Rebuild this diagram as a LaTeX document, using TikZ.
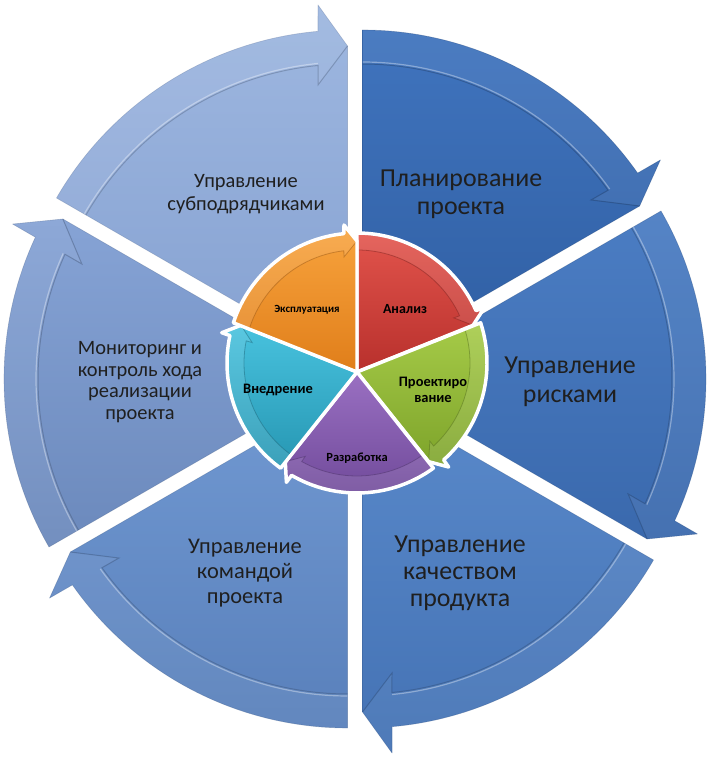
\documentclass[tikz,border=0pt]{standalone}
\usepackage{fontspec}
\setmainfont{Carlito}
\begin{document}
\begin{tikzpicture}[x=1bp,y=1bp,
  otext/.style={align=center, text=black!88},
  itext/.style={align=center, text=black}]
\useasboundingbox (0,0) rectangle (711,767);
\fill[white] (0,0) rectangle (711,767);
% ---------- outer ring: six exploded arrow segments ----------
\foreach \sa/\sb/\ct/\cb in {90/30/4074BE/2F5EA2, 30/-30/4B7DC3/3A69AD, -30/-90/5A8ACB/4472B4, -90/-150/7199D2/5980BB, -150/-210/86A3D5/6B89BC, 150/90/9EB7E0/85A1D1}{
  \definecolor{tc}{HTML}{\ct}\definecolor{bc}{HTML}{\cb}
  \pgfmathsetmacro\mm{(\sa+\sb)/2}
  \pgfmathsetmacro\ee{\sb+5.04}
  \pgfmathsetmacro\eei{\sb+5.6}
  \pgfmathsetmacro\bq{\sb+90}
  \begin{scope}[shift={(355,388)}, shift={(\mm:15)}]
    \shade[top color=tc, bottom color=bc] (0,0) -- (\sa:336) arc[start angle=\sa, end angle=\ee, radius=336] -- ([shift={(\bq:29.5)}]\sb:361) -- (\sb:320) -- cycle;
    \fill[white, opacity=0.06] (\sa:336) arc[start angle=\sa, end angle=\ee, radius=336] -- ([shift={(\bq:29.5)}]\sb:361) -- (\sb:320) -- ([shift={(\bq:29.5)}]\sb:281) -- (\eei:302) arc[start angle=\eei, end angle=\sa, radius=302] -- cycle;
    \draw[white, opacity=0.35, line width=1.2] (\sa:304) arc[start angle=\sa, end angle=\eei, radius=304];
    \draw[bc!65!black, opacity=0.45, line width=1] (\sa:302) arc[start angle=\sa, end angle=\eei, radius=302] -- ([shift={(\bq:29.5)}]\sb:281) -- (\sb:320);
    \draw[bc!75!black, opacity=0.35, line width=0.6, line join=round] (0,0) -- (\sa:336) arc[start angle=\sa, end angle=\ee, radius=336] -- ([shift={(\bq:29.5)}]\sb:361) -- (\sb:320) -- cycle;
  \end{scope}
}
% ---------- inner disk: five arrow segments ----------
\begin{scope}[shift={(357,404)}]
\foreach \sa/\sb/\ct/\cb in {90/18/E2544C/B8302C, 18/-54/A6CB48/7DA32A, -54/-126/9A70C2/6E4898, -126/-198/48C2DE/2696B2, 162/90/F8A43E/E07E1A}{
  \definecolor{tc}{HTML}{\ct}\definecolor{bc}{HTML}{\cb}
  \pgfmathsetmacro\ee{\sb+5.8}
  \pgfmathsetmacro\eei{\sb+6.7}
  \pgfmathsetmacro\bq{\sb+90}
  \pgfmathsetmacro\ap{\sa+10}
  \shade[top color=tc, bottom color=bc] (0,-9) -- (\sa:130) arc[start angle=\sa, end angle=\ee, radius=130] -- ([shift={(\bq:13)}]\sb:138) -- (\sb:122) -- cycle;
  \begin{scope}
    \clip (0,-9) -- (\sa:130) arc[start angle=\sa, end angle=\ee, radius=130] -- ([shift={(\bq:13)}]\sb:138) -- (\sb:122) -- cycle;
    \fill[white, opacity=0.10] (\ap:130) arc[start angle=\ap, end angle=\ee, radius=130] -- ([shift={(\bq:13)}]\sb:138) -- (\sb:122) -- ([shift={(\bq:13)}]\sb:106) -- (\eei:113) arc[start angle=\eei, end angle=\ap, radius=113] -- cycle;
    \draw[bc!70!black, opacity=0.5, line width=0.8] (\ap:113) arc[start angle=\ap, end angle=\eei, radius=113] -- ([shift={(\bq:13)}]\sb:106) -- (\sb:122);
  \end{scope}
  \draw[white, line width=3.5, line join=round] (0,-9) -- (\sa:130) arc[start angle=\sa, end angle=\ee, radius=130] -- ([shift={(\bq:13)}]\sb:138) -- (\sb:122) -- cycle;
}
\end{scope}
% ---------- texts ----------
\node[otext, font=\fontsize{26}{28}\selectfont] (t1) at (461,573) {Планирование\\проекта};
\node[otext, font=\fontsize{26}{29}\selectfont] (t2) at (570,385) {Управление\\рисками};
\node[otext, font=\fontsize{26}{27}\selectfont] (t3) at (460,194) {Управление\\качеством\\продукта};
\node[otext, font=\fontsize{22.5}{25}\selectfont] (t4) at (245,194) {Управление\\командой\\проекта};
\node[otext, font=\fontsize{20.5}{21.5}\selectfont] (t5) at (140,385) {Мониторинг и\\контроль хода\\реализации\\проекта};
\node[otext, font=\fontsize{20.5}{23}\selectfont] (t6) at (246,572.5) {Управление\\субподрядчиками};
\node[itext, font=\bfseries\fontsize{11}{12}\selectfont] (i5) at (307,457) {Эксплуатация};
\node[itext, font=\bfseries\fontsize{14}{15}\selectfont] (i1) at (405,458) {Анализ};
\node[itext, font=\bfseries\fontsize{14.5}{16}\selectfont] (i2) at (433,377) {Проектиро\\вание};
\node[itext, font=\bfseries\fontsize{14.5}{16}\selectfont] (i4) at (278,377) {Внедрение};
\node[itext, font=\bfseries\fontsize{12.5}{14}\selectfont] (i3) at (357,309) {Разработка};
\end{tikzpicture}
\end{document}
